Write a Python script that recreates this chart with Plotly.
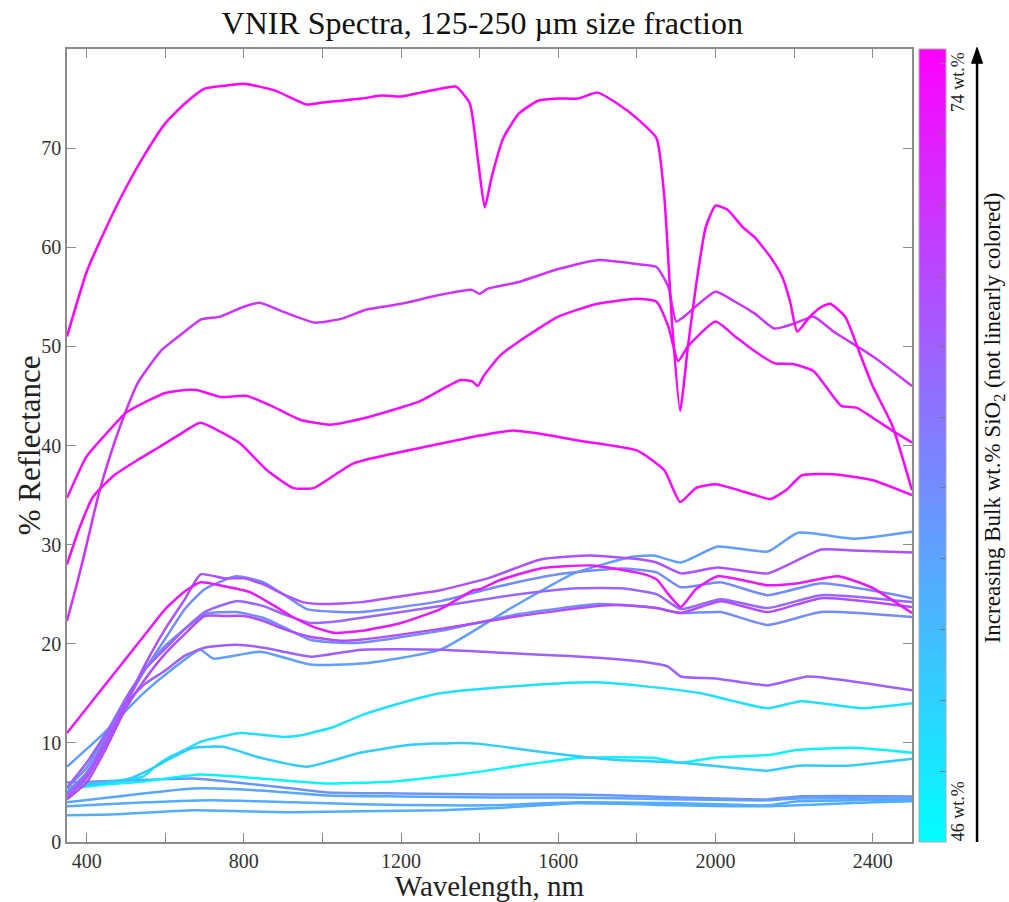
import plotly.graph_objects as go
from plotly.colors import sample_colorscale

# ---------------- data ----------------
WL_A = [350,400,450,500,550,600,650,700,750,800,880,960,1000,1100,1150,1200,1250,1300,1340,1375,
        1395,1413,1430,1460,1500,1550,1600,1650,1700,1750,1800,1850,1870,1890,1910,1930,1950,1975,2000,2030,
        2070,2100,2140,2170,2190,2208,2240,2270,2292,2330,2370,2400,2450,2500]
R_A = [51,57.5,62,66,69.5,72.5,74.5,76,76.3,76.5,75.8,74.4,74.6,75,75.3,75.2,75.6,76,76.2,74.5,
       69,64,67,71,73.5,74.8,75,75,75.6,74.5,73,71,65,52,43.5,50,56,62,64.2,63.8,
       62,61,59,57,54.5,51.5,53,54,54.3,53,49,46,42,35.5]

WL_B = [350,375,400,430,460,500,530,590,650,690,740,800,840,900,980,1050,1110,1200,1300,1380,
        1400,1420,1500,1600,1700,1800,1850,1880,1900,1920,2000,2050,2100,2150,2200,2250,2300,2400,2500]
R_B = [22.3,26,30,35,39,43.5,46.3,49.6,51.5,52.7,53,54,54.4,53.5,52.4,52.8,53.7,54.3,55.2,55.7,
       55.3,55.8,56.5,57.8,58.7,58.3,58,56,52.5,53,55.5,54.5,53.3,51.8,52.3,53,51.5,49,46]

WL_C = [350,400,450,500,550,600,650,680,740,808,870,943,1020,1100,1181,1250,1351,1380,1395,1410,
        1450,1500,1600,1700,1800,1850,1880,1905,1930,2000,2050,2100,2150,2200,2250,2280,2320,2360,2400,2450,2500]
R_C = [34.7,38.9,41.2,43.3,44.4,45.3,45.6,45.6,44.9,45,44,42.6,42.1,42.7,43.6,44.5,46.6,46.5,46,47,
       49,50.5,53,54.3,54.8,54.5,52,48.5,50,52.5,51,49.5,48.3,48.2,47.5,46,44,43.8,42.8,41.5,40.3]

WL_D = [350,380,416,470,536,587,640,689,740,791,859,926,977,1030,1079,1181,1351,1400,1480,1550,
        1650,1800,1870,1910,1950,2000,2050,2100,2140,2180,2220,2300,2400,2500]
R_D = [28,31.5,34.8,37,38.7,39.9,41.2,42.3,41.4,40.2,37.5,35.7,35.7,37,38.2,39.2,40.6,41,41.5,41.2,
       40.5,39.5,37.5,34.3,35.7,36.1,35.6,35,34.6,35.5,37,37.1,36.5,35]

WL_E = [350,400,450,500,550,600,650,690,750,816,870,920,977,1030,1100,1200,1300,1384,1400,1450,
        1555,1683,1810,1850,1880,1912,1950,2006,2133,2210,2312,2396,2500]
R_E = [11,13.5,16,18.5,21,23.5,25.3,26.2,25.8,25.2,24,22.8,21.7,21.1,21.3,22.1,23.5,25.4,25.5,26.4,
       27.6,27.9,27.1,26.5,25,23.7,25.5,26.8,25.9,26.1,26.8,25.7,23.1]

WL_P = [350,400,450,500,550,600,650,690,750,800,850,900,950,1000,1100,1200,1300,1428,1555,1683,
        1810,1850,1912,2006,2133,2269,2350,2500]
R_P = [4.5,6.5,10,14,18,21.5,24.5,27,26.6,26.6,26,25,24.2,24,24.2,24.8,25.4,26.7,28.5,28.9,
       28.5,28.2,27.1,27.7,27.1,29.5,29.4,29.2]

WL_Q1 = [350,400,450,500,550,600,650,700,780,850,900,960,1046,1100,1300,1450,1600,1759,1850,1912,
         2013,2133,2269,2500]
R_Q1 = [5.0,7,10.5,14,17.5,20.5,23.5,25.5,26.8,26.2,25,23.5,23.2,23.2,24.3,25.8,27,27.6,27.2,25.7,
        26.2,24.9,26.1,24.6]

WL_Q2 = [350,400,450,500,550,600,650,700,780,850,900,969,1046,1096,1300,1500,1650,1759,1850,1912,
         2013,2133,2269,2500]
R_Q2 = [4.8,6.8,10.5,14.5,17.5,19.5,21.5,23.2,24.3,23.8,23,22.1,22.3,22.6,23.8,25,25.6,25.6,25,23.5,
        24.5,23.6,24.9,24.2]

WL_Q3 = [350,400,450,500,550,600,650,700,750,800,850,900,969,1046,1096,1300,1500,1700,1759,1850,
         1912,2013,2133,2269,2500]
R_Q3 = [4.3,6,9.5,13.5,16.5,19,21,22.8,22.8,22.8,22.3,21.5,20.7,20.3,20.4,21.5,22.8,23.8,23.9,23.6,
        23.1,24.3,23.2,24.6,23.7]

WL_Q4 = [350,400,450,500,550,600,650,700,780,850,900,969,1046,1096,1300,1500,1700,1759,1850,1912,
         2013,2133,2269,2500]
R_Q4 = [5.5,7.5,11,14.5,17.5,19.8,21.5,23,23.2,22.6,21.7,20.4,20.1,20.1,21.3,23,24,23.9,23.6,23.1,
        23.2,21.9,23.2,22.7]

WL_F = [350,400,450,500,550,600,650,700,780,850,900,970,1100,1300,1453,1555,1700,1810,1879,1912,
        2000,2133,2235,2350,2500]
R_F = [5.5,8,11,14,16,17.3,18.8,19.6,19.9,19.6,19.2,18.7,19.4,19.4,19.1,18.9,18.6,18.2,17.7,16.7,
       16.5,15.8,16.7,16.2,15.3]

WL_X = [350,434,544,620,689,722,842,969,1100,1300,1471,1640,1792,1843,1912,2006,2133,2210,2353,2500]
R_X = [7.6,10.6,15,17.5,19.4,18.5,19.2,17.9,18,19.4,23.4,27.1,28.8,28.9,28.2,29.8,29.3,31.2,30.6,31.3]

WL_G1 = [350,400,450,500,544,580,612,650,689,750,791,850,900,950,1028,1100,1198,1300,1453,1600,
         1708,1800,1963,2133,2218,2370,2500]
R_G1 = [5.5,5.7,6,6.3,6.6,7.8,8.6,9.3,10.1,10.7,11,10.8,10.6,10.8,11.6,12.8,14,15,15.6,16,
        16.1,15.8,15,13.5,14.2,13.5,14]

WL_G2 = [350,400,450,502,561,612,671,747,842,961,1096,1224,1351,1402,1573,1741,1912,2133,2210,2337,2500]
R_G2 = [5.6,5.8,6,6.3,7.3,8.4,9.5,9.6,8.5,7.6,9,9.8,10,9.9,9,8.3,8.0,7.2,7.7,7.7,8.4]

WL_G3 = [350,450,544,689,842,1012,1181,1300,1402,1500,1657,1843,1912,1996,2141,2210,2350,2450,2500]
R_G3 = [5.4,5.8,6.1,6.8,6.4,5.9,6.1,6.6,7.1,7.7,8.5,8.5,8.0,8.5,8.8,9.3,9.5,9.2,9.0]

WL_L1 = [350,500,671,757,900,1012,1200,1428,1600,1750,1912,2133,2210,2500]
R_L1 = [6.0,6.2,6.4,6.1,5.5,5.0,4.9,4.8,4.8,4.7,4.5,4.3,4.6,4.6]

WL_L2 = [350,502,671,842,1012,1200,1428,1600,1912,2133,2210,2500]
R_L2 = [4.0,4.7,5.4,5.2,4.7,4.6,4.5,4.5,4.3,4.2,4.4,4.4]

WL_L3 = [350,500,714,926,1100,1300,1428,1650,1912,2133,2210,2500]
R_L3 = [3.6,3.9,4.2,4.0,3.8,3.7,3.7,4.0,3.9,3.7,4.1,4.3]

WL_L4 = [350,477,671,926,1100,1300,1428,1650,1912,2133,2400,2500]
R_L4 = [2.7,2.8,3.2,3.0,3.1,3.2,3.4,3.9,3.7,3.6,4.0,4.1]

# relative position of each sample on the (non-linear) colour bar, 0 = 46 wt.%, 1 = 74 wt.%
SERIES = ["L4", "L3", "L2", "L1", "G3", "G1", "G2", "X", "Q4", "Q1", "F", "Q2", "P", "Q3",
          "B", "E", "C", "D", "A"]
COLOR_POS = [0.32, 0.33, 0.35, 0.42, 0.05, 0.12, 0.2, 0.38, 0.45, 0.45, 0.62, 0.6, 0.68, 0.7,
             0.8, 0.9, 0.95, 0.97, 1.0]

SIO2_MIN, SIO2_MAX = 46, 74
X_TICKS = [400, 800, 1200, 1600, 2000, 2400]
Y_TICKS = [0, 10, 20, 30, 40, 50, 60, 70]

DATA = {
    "A": (WL_A, R_A), "B": (WL_B, R_B), "C": (WL_C, R_C), "D": (WL_D, R_D), "E": (WL_E, R_E),
    "P": (WL_P, R_P), "Q1": (WL_Q1, R_Q1), "Q2": (WL_Q2, R_Q2), "Q3": (WL_Q3, R_Q3), "Q4": (WL_Q4, R_Q4),
    "F": (WL_F, R_F), "X": (WL_X, R_X), "G1": (WL_G1, R_G1), "G2": (WL_G2, R_G2), "G3": (WL_G3, R_G3),
    "L1": (WL_L1, R_L1), "L2": (WL_L2, R_L2), "L3": (WL_L3, R_L3), "L4": (WL_L4, R_L4),
}

COOL = [[0, "rgb(0,255,255)"], [1, "rgb(255,0,255)"]]
FONT = "Liberation Serif, Times New Roman, serif"

fig = go.Figure()
for name, pos in zip(SERIES, COLOR_POS):
    wl, r = DATA[name]
    col = sample_colorscale(COOL, [pos])[0]
    fig.add_trace(go.Scatter(x=wl, y=r, mode="lines", name=name, showlegend=False,
                             line=dict(color=col, width=2.5, shape="spline", smoothing=0.5),
                             hoverinfo="skip"))

# colour bar holder (markers placed outside the visible y-range)
fig.add_trace(go.Scatter(
    x=[400, 400], y=[-50, -50], mode="markers", showlegend=False, hoverinfo="skip",
    marker=dict(color=[SIO2_MIN, SIO2_MAX], colorscale=COOL, cmin=SIO2_MIN, cmax=SIO2_MAX,
                size=1, showscale=True,
                colorbar=dict(x=1.008, xanchor="left", xref="paper", y=0, yanchor="bottom",
                              len=1.0, lenmode="fraction", thickness=27, thicknessmode="pixels",
                              outlinewidth=1, outlinecolor="#aaaaaa",
                              ticks="inside", ticklen=6, tickcolor="#777777", dtick=2.5,
                              tick0=SIO2_MIN, showticklabels=False, xpad=0, ypad=0))))

axis_common = dict(showline=True, linecolor="#8c8c8c", linewidth=1.5, mirror="ticks",
                   ticks="inside", tickcolor="#8c8c8c", ticklen=9, tickwidth=1.3,
                   showgrid=False, zeroline=False, automargin=False,
                   tickfont=dict(family=FONT, size=20, color="#333333"))

fig.update_xaxes(range=[350, 2500], tickvals=X_TICKS,
                 minor=dict(ticks="inside", dtick=200, tick0=0, ticklen=9, tickcolor="#8c8c8c",
                            tickwidth=1.3),
                 title=dict(text="Wavelength, nm", font=dict(family=FONT, size=29, color="#222222"),
                            standoff=10),
                 **axis_common)
fig.update_yaxes(range=[0, 80], tickvals=Y_TICKS, **axis_common)

fig.update_layout(
    width=1009, height=902,
    margin=dict(l=67, r=97, t=49, b=60, autoexpand=False),
    paper_bgcolor="white", plot_bgcolor="white",
    title=dict(text="VNIR Spectra, 125-250 µm size fraction", x=0.478, xanchor="center",
               y=0.975, yanchor="middle",
               font=dict(family=FONT, size=32, color="#111111")),
    font=dict(family=FONT),
)

# y-axis title placed as an annotation so it sits where the reference has it
fig.add_annotation(x=-0.044, y=0.5, xref="paper", yref="paper", showarrow=False, textangle=-90,
                   xanchor="center", yanchor="middle",
                   text="% Reflectance", font=dict(family=FONT, size=31, color="#222222"))

# arrow beside the colour bar: shaft + head drawn as shapes
fig.add_shape(type="line", xref="paper", yref="paper", x0=1.077, x1=1.077, y0=0.0, y1=0.985,
              line=dict(color="black", width=2.5))
fig.add_shape(type="path", xref="paper", yref="paper",
              path="M 1.0705,0.982 L 1.0835,0.982 L 1.077,1.002 Z",
              fillcolor="black", line=dict(color="black", width=1))

fig.add_annotation(x=1.0965, y=0.535, xref="paper", yref="paper", showarrow=False, textangle=-90,
                   xanchor="center", yanchor="middle",
                   text="Increasing Bulk wt.% SiO<sub>2</sub> (not linearly colored)",
                   font=dict(family=FONT, size=23, color="#111111"))
fig.add_annotation(x=1.0545, y=0.958, xref="paper", yref="paper", showarrow=False, textangle=-90,
                   xanchor="center", yanchor="middle",
                   text="74 wt.%", font=dict(family=FONT, size=18, color="#222222"))
fig.add_annotation(x=1.0545, y=0.039, xref="paper", yref="paper", showarrow=False, textangle=-90,
                   xanchor="center", yanchor="middle",
                   text="46 wt.%", font=dict(family=FONT, size=18, color="#222222"))

fig.write_html("out.html")
